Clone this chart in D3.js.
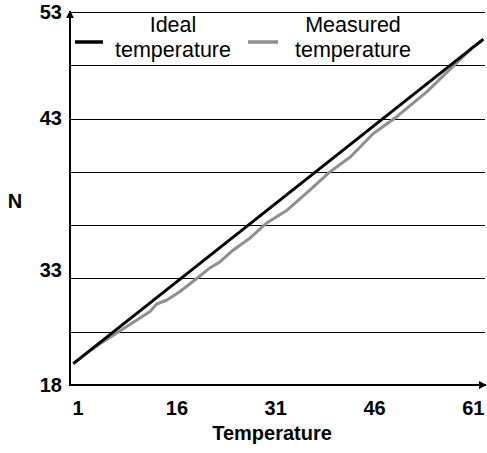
<!DOCTYPE html>
<html>
<head>
<meta charset="utf-8">
<script src="https://cdn.jsdelivr.net/npm/d3@7"></script>
<style>
  html, body { margin: 0; padding: 0; background: #fff; }
  text { font-family: "Liberation Sans", Arial, sans-serif; }
</style>
</head>
<body>
<svg id="chart"></svg>
<script>
// data
const idealX = [0.35, 62.6];
const idealY = [20.0, 50.45];
const measuredX = [0.35, 2, 4, 6, 8, 10, 11, 12, 13, 14.5, 16.5, 18.8, 21, 22.6, 24.6, 27.2, 29.7, 32.8, 36.3, 39.3, 42.4, 45.9, 49.5, 54, 58.5, 61, 62.4];
const measuredY = [20.0, 20.8, 21.7, 22.5, 23.3, 24.1, 24.5, 24.9, 25.6, 25.95, 26.75, 27.85, 28.95, 29.55, 30.65, 31.8, 33.2, 34.4, 36.3, 38.0, 39.4, 41.6, 43.2, 45.5, 48.2, 49.7, 50.3];
const xTicks = [1, 16, 31, 46, 61];
const yGrid = [18, 23, 28, 33, 38, 43, 48, 53];
const yTickValues = [18, 28.8, 43, 53];
const yTickLabels = ["18", "33", "43", "53"];
const seriesNames = [["Ideal", "temperature"], ["Measured", "temperature"]];
const seriesColors = ["#000", "#8f8f8f"];

let W = 487, H = 453
let plotLeft = 70, plotRight = 485, plotTop = 12, plotBottom = 385

let svg = d3.select('#chart').attr('width', W).attr('height', H)

let x = d3.scaleLinear().domain([0, 63]).range([71, 486])
let y = d3.scaleLinear().domain([18, 53]).range([plotBottom, plotTop])

// arrow heads
let defs = svg.append('defs')
defs.append('marker')
  .attr('id', 'arrow')
  .attr('viewBox', '0 0 10 10')
  .attr('refX', 9).attr('refY', 5)
  .attr('markerWidth', 4).attr('markerHeight', 4)
  .attr('orient', 'auto')
  .append('path').attr('d', 'M0,0 L10,5 L0,10 z').attr('fill', '#000')

// gridlines
svg.append('g')
  .attr('transform', `translate(${plotLeft},0)`)
  .call(d3.axisLeft(y).tickValues(yGrid).tickSize(-(plotRight - plotLeft)).tickFormat(''))
  .call(g => g.select('.domain').remove())
  .call(g => g.selectAll('line').attr('stroke', '#000').attr('stroke-width', 1)
    .attr('shape-rendering', 'crispEdges'))

// y tick labels
svg.append('g')
  .attr('transform', `translate(${plotLeft},0)`)
  .call(d3.axisLeft(y).tickValues(yTickValues).tickSize(0).tickPadding(8)
    .tickFormat((d, i) => yTickLabels[i]))
  .call(g => g.select('.domain').remove())
  .call(g => g.selectAll('text').attr('font-size', 20).attr('font-weight', 'bold')
    .attr('fill', '#000').style('font-family', '"Liberation Sans", Arial, sans-serif'))

// x tick labels
svg.append('g')
  .attr('transform', `translate(0,${plotBottom})`)
  .call(d3.axisBottom(x).tickValues(xTicks).tickSize(0).tickPadding(16))
  .call(g => g.select('.domain').remove())
  .call(g => g.selectAll('text').attr('font-size', 20).attr('font-weight', 'bold')
    .attr('fill', '#000').style('font-family', '"Liberation Sans", Arial, sans-serif'))

// axis lines with arrows
svg.append('line')
  .attr('x1', plotLeft).attr('y1', plotBottom + 1).attr('x2', plotLeft).attr('y2', plotTop - 1)
  .attr('stroke', '#000').attr('stroke-width', 2).attr('marker-end', 'url(#arrow)')
svg.append('line')
  .attr('x1', plotLeft - 1).attr('y1', plotBottom).attr('x2', plotRight + 1).attr('y2', plotBottom)
  .attr('stroke', '#000').attr('stroke-width', 2).attr('marker-end', 'url(#arrow)')

// lines
let line = d3.line().x(d => x(d[0])).y(d => y(d[1]))
let measured = measuredX.map((v, i) => [v, measuredY[i]])
let ideal = idealX.map((v, i) => [v, idealY[i]])

svg.append('path').datum(measured)
  .attr('d', line).attr('fill', 'none')
  .attr('stroke', seriesColors[1]).attr('stroke-width', 3).attr('stroke-linejoin', 'round')
svg.append('path').datum(ideal)
  .attr('d', line).attr('fill', 'none')
  .attr('stroke', seriesColors[0]).attr('stroke-width', 3)

// legend
let legendSpots = [{x1: 75, x2: 103, tx: 173}, {x1: 248, x2: 278, tx: 353}]
seriesNames.forEach((name, i) => {
  let s = legendSpots[i]
  svg.append('line')
    .attr('x1', s.x1).attr('x2', s.x2).attr('y1', 42).attr('y2', 42)
    .attr('stroke', seriesColors[i]).attr('stroke-width', 3.5)
  svg.append('text').attr('x', s.tx).attr('y', 32).attr('text-anchor', 'middle')
    .attr('font-size', 21.5).text(name[0])
  svg.append('text').attr('x', s.tx).attr('y', 57).attr('text-anchor', 'middle')
    .attr('font-size', 21.5).text(name[1])
})

// axis titles
svg.append('text').attr('x', 272).attr('y', 440).attr('text-anchor', 'middle')
  .attr('font-size', 20).attr('font-weight', 'bold').text('Temperature')
svg.append('text').attr('x', 15).attr('y', 208).attr('text-anchor', 'middle')
  .attr('font-size', 20).attr('font-weight', 'bold').text('N')
</script>
</body>
</html>
